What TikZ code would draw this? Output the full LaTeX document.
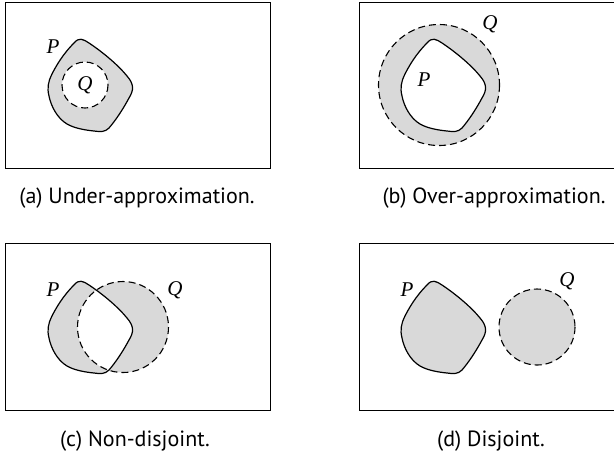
\documentclass[tikz,border=0pt]{standalone}
\usepackage{fontspec}
\setsansfont{PT Sans}
\newfontfamily\setfont{Liberation Serif}
\usetikzlibrary{positioning}

% the irregular set P, drawn round its own centre
\newcommand{\pblob}{(-15,-43) .. controls (-10,-49) and (-6,-47) .. (0,-43)
  .. controls (15,-33) and (30,-20) .. (38,-10)
  .. controls (45,-2) and (45,4) .. (40,12)
  .. controls (33,25) and (26,35) .. (20,42)
  .. controls (16,46) and (12,46) .. (5,45)
  .. controls (-5,44) and (-15,42) .. (-22,38)
  .. controls (-32,32) and (-38,20) .. (-40,10)
  .. controls (-42,2) and (-41,-4) .. (-37,-12)
  .. controls (-30,-26) and (-22,-36) .. (-15,-43) -- cycle}

\begin{document}
\begin{tikzpicture}[
    x=0.5pt, y=-0.5pt,
    frame/.style={draw, line width=0.5pt},
    setP/.style={draw, line width=0.6pt},
    setQ/.style={draw, dash pattern=on 3.5pt off 2pt, line width=0.55pt},
    shade/.style={fill=gray!30},
    lbl/.style={font=\setfont\itshape\fontsize{10.5}{12}\selectfont, inner sep=0pt},
    subcap/.style={font=\sffamily\fontsize{11}{14}\selectfont, inner sep=0pt}
]
    \clip (0,0) rectangle (614,457);

    % (a) Q inside P
    \draw[frame] (5,2) rectangle (270,168);
    \begin{scope}[shift={(89,86)}]
        \draw[setP, shade] \pblob;
    \end{scope}
    \draw[setQ, fill=white] (85,85) circle[radius=23];
    \node[lbl] (Pa) at (53,47) {P};
    \node[lbl] (Qa) at (85,85) {Q};
    \node[subcap] (capa) at (137,198) {(a) Under-approximation.};

    % (b) P inside Q
    \draw[frame] (359,2) rectangle (627,168);
    \draw[setQ, shade] (439,85) circle[radius=60.5];
    \begin{scope}[shift={(442,86)}]
        \draw[setP, fill=white] \pblob;
    \end{scope}
    \node[lbl] (Pb) at (424,80) {P};
    \node[lbl] (Qb) at (490,24) {Q};
    \node[subcap] (capb) at (494,198) {(b) Over-approximation.};

    % (c) P and Q overlap
    \draw[frame] (5,243) rectangle (270,410);
    \begin{scope}[shift={(89,328)}]
        \fill[shade] \pblob;
    \end{scope}
    \fill[shade] (123,327) circle[radius=45.5];
    \begin{scope}
        \clip (123,327) circle[radius=45.5];
        \begin{scope}[shift={(89,328)}]
            \fill[white] \pblob;
        \end{scope}
    \end{scope}
    \begin{scope}[shift={(89,328)}]
        \draw[setP] \pblob;
    \end{scope}
    \draw[setQ] (123,327) circle[radius=45.5];
    \node[lbl] (Pc) at (53,290) {P};
    \node[lbl] (Qc) at (175,290) {Q};
    \node[subcap] (capc) at (135,441) {(c) Non-disjoint.};

    % (d) P and Q apart
    \draw[frame] (359,243) rectangle (627,410);
    \begin{scope}[shift={(442,328)}]
        \draw[setP, shade] \pblob;
    \end{scope}
    \draw[setQ, shade] (537,327) circle[radius=38];
    \node[lbl] (Pd) at (407,290) {P};
    \node[lbl] (Qd) at (567,281) {Q};
    \node[subcap] (capd) at (491,441) {(d) Disjoint.};
\end{tikzpicture}
\end{document}
